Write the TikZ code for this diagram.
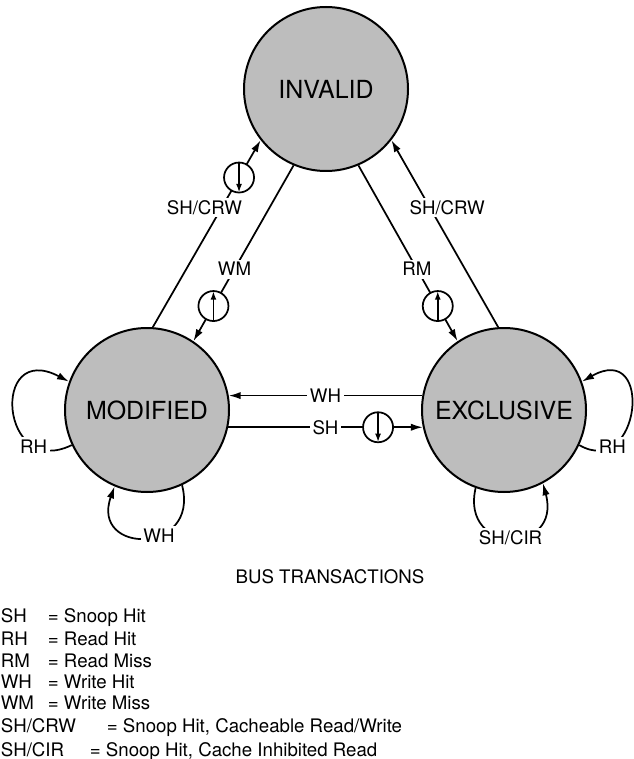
\documentclass[tikz,border=0pt]{standalone}
\usepackage{fontspec}
\setmainfont{TeX Gyre Heros}
\usetikzlibrary{arrows.meta}
\newcommand{\statefont}{\fontsize{18.7}{22}\selectfont}
\newcommand{\lblfont}{\fontsize{14}{16}\selectfont}
\tikzset{every picture/.style={line width=1.3pt},
  state/.style={circle, draw, line width=1.5pt, fill=black!26, minimum size=123pt, inner sep=0pt, font=\statefont},
  edge/.style={-{Latex[length=9pt,width=5.5pt]}},
  lbl/.style={fill=white, inner sep=2pt, font=\lblfont},
  snoop/.style={circle, draw, fill=white, minimum size=22.5pt, inner sep=0pt},
  snoopdn/.style={snoop, path picture={\draw[line width=1.3pt,-{Latex[length=6.5pt,width=4.5pt]}] (path picture bounding box.north) -- (path picture bounding box.south);}},
  snoopup/.style={snoop, path picture={\draw[line width=1.3pt,-{Latex[length=6.5pt,width=4.5pt]}] (path picture bounding box.south) -- (path picture bounding box.north);}},
  legend/.style={anchor=base west, inner sep=0pt, font=\lblfont}}

\begin{document}
\begin{tikzpicture}[x=0.75pt,y=0.75pt,yscale=-1,xscale=1]
\useasboundingbox (0,0) rectangle (634,759);

% State Nodes
\node[state] (inv) at (326,89) {INVALID};
\node[state] (mod) at (147,410) {MODIFIED};
\node[state] (exc) at (504,410) {EXCLUSIVE};

% Straight Lines
\draw[edge] (mod.86) -- node[lbl,pos=0.64,xshift=-13pt] (crwl) {SH/CRW} node[snoopdn,pos=0.8] (crws) {} (inv.218);
\draw[edge] (inv.247) -- node[lbl,pos=0.59] (wml) {WM} node[snoopup,pos=0.8] (wms) {} (mod.56);
\draw[edge] (inv.293) -- node[lbl,pos=0.59] (rml) {RM} node[snoopup,pos=0.8] (rms) {} (exc.124);
\draw[edge] (exc.94) -- node[lbl,pos=0.64,xshift=13pt] (crwr) {SH/CRW} (inv.322);
\draw[edge] (exc.170) -- node[lbl,pos=0.5] (whl) {WH} (mod.10);
\draw[edge] (mod.348) -- node[lbl,pos=0.5] (shl) {SH} node[snoopdn,pos=0.77] (shs) {} (exc.192);

% Loops
\draw[edge] (mod.205) .. controls (0,480) and (-10,340) .. node[lbl,pos=0.22] (rhm) {RH} (mod.160);
\draw[edge] (mod.295) .. controls (200,555) and (90,555) .. node[lbl,pos=0.4] (whm) {WH} (mod.247);
\draw[edge] (exc.335) .. controls (640,480) and (655,340) .. node[lbl,pos=0.22] (rhe) {RH} (exc.20);
\draw[edge] (exc.250) .. controls (460,555) and (562,555) .. node[lbl,pos=0.5] (cir) {SH/CIR} (exc.298);

% Text Node
\node[legend,anchor=base] (bus) at (330,583) {BUS TRANSACTIONS};

% Legend
\foreach \abbr/\eqx/\y/\txt [count=\i] in {SH/47/622/Snoop Hit, RH/47/645/Read Hit, RM/47/667/Read Miss, WH/47/688/Write Hit, WM/47/709/Write Miss, {SH/CRW}/106/732/{Snoop Hit, Cacheable Read/Write}, {SH/CIR}/89/756/{Snoop Hit, Cache Inhibited Read}}{
  \node[legend] (abbr\i) at (0,\y) {\abbr};
  \node[legend] (def\i) at (\eqx,\y) {= \txt};
}

\end{tikzpicture}
\end{document}
